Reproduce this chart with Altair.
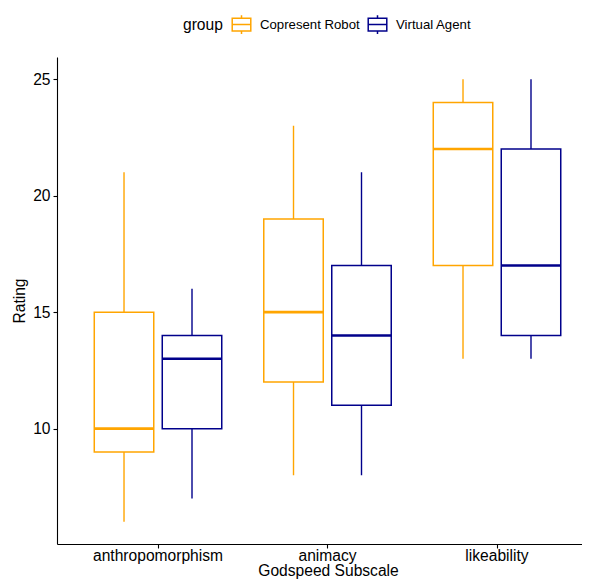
import altair as alt
import pandas as pd

subscales = ["anthropomorphism", "animacy", "likeability"]
groups = ["Copresent Robot", "Virtual Agent"]
colors = ["orange", "darkblue"]

# per subscale: [Copresent Robot, Virtual Agent]
lower = {"anthropomorphism": [6, 7], "animacy": [8, 8], "likeability": [13, 13]}
q1 = {"anthropomorphism": [9, 10], "animacy": [12, 11], "likeability": [17, 14]}
median = {"anthropomorphism": [10, 13], "animacy": [15, 14], "likeability": [22, 17]}
q3 = {"anthropomorphism": [15, 14], "animacy": [19, 17], "likeability": [24, 22]}
upper = {"anthropomorphism": [21, 16], "animacy": [23, 21], "likeability": [25, 25]}

rows = []
for s in subscales:
    for i, g in enumerate(groups):
        rows.append({"subscale": s, "group": g, "lower": lower[s][i], "q1": q1[s][i],
                     "median": median[s][i], "q3": q3[s][i], "upper": upper[s][i]})
df = pd.DataFrame(rows)

FONT = "Liberation Sans"

xenc = alt.X("subscale:N", sort=subscales,
             scale=alt.Scale(paddingInner=0, paddingOuter=0.0487, align=0.985),
             axis=alt.Axis(title="Godspeed Subscale", labelAngle=0, titleX=271))
xoff = alt.XOffset("group:N", sort=groups,
                   scale=alt.Scale(paddingInner=0.125, paddingOuter=0.309))
color = alt.Color("group:N", sort=groups,
                  scale=alt.Scale(domain=groups, range=colors),
                  legend=alt.Legend(
                      title="group", orient="none", direction="horizontal",
                      titleOrient="left", legendX=126, legendY=-43,
                      symbolType="M-1,-0.68H1V0.68H-1Z M-1,0H1 M0,-1V-0.68 M0,0.68V1",
                      symbolSize=345, symbolStrokeWidth=1.5,
                      symbolFillColor="transparent",
                      labelFontSize=13.2, titleFontSize=15.6, labelOffset=8,
                      columnPadding=5, titlePadding=8, labelFont=FONT, titleFont=FONT,
                      labelColor="black", titleColor="black", titleFontWeight="normal"))
yscale = alt.Scale(domain=[5.05, 25.95], nice=False, zero=False)

base = alt.Chart(df)

whisk = base.mark_rule(strokeWidth=1.4).encode(
    x=xenc, xOffset=xoff,
    y=alt.Y("lower:Q", scale=yscale,
            axis=alt.Axis(title="Rating", values=[10, 15, 20, 25])),
    y2="upper:Q",
    color=color,
)
box = base.mark_bar(filled=False, fill="white", strokeWidth=1.5).encode(
    x=xenc, xOffset=xoff,
    y=alt.Y("q1:Q", scale=yscale),
    y2="q3:Q",
    color=color,
)
med = base.mark_bar(filled=False, strokeWidth=2.6).encode(
    x=xenc, xOffset=xoff,
    y=alt.Y("median:Q", scale=yscale),
    y2="median:Q",
    color=color,
)

chart = alt.layer(whisk, box, med).properties(
    width=525, height=487,
    autosize=alt.AutoSizeParams(type="none"),
    padding={"left": 49, "top": 49, "right": 0, "bottom": 35},
).configure_view(stroke=None).configure_axis(
    labelFont=FONT, titleFont=FONT, labelFontSize=15.6, titleFontSize=15.6,
    labelColor="black", titleColor="black", titleFontWeight="normal",
    domainColor="black", domainWidth=1.1, tickColor="black", tickSize=4,
    tickWidth=1.1, grid=False, labelPadding=3,
).configure_axisX(titlePadding=0, labelPadding=0).configure_axisY(titlePadding=5)

chart.save("out.html", embed_options={"renderer": "svg", "actions": False})
